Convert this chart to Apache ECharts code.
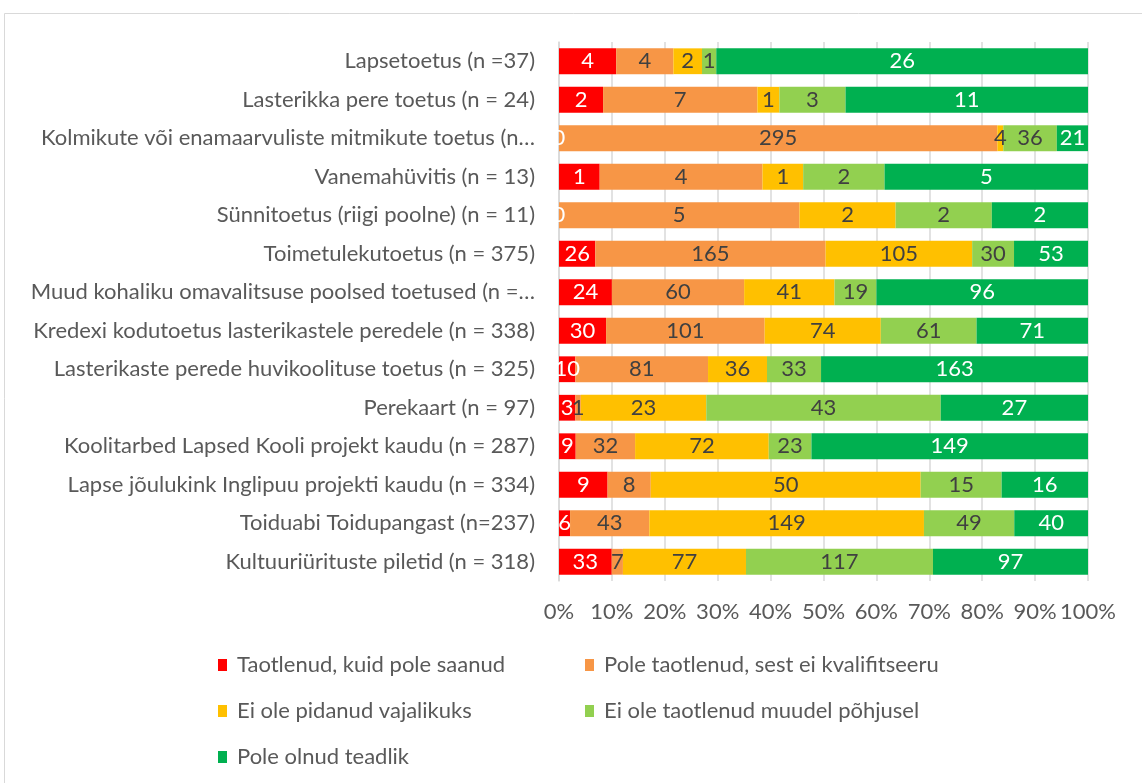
<!DOCTYPE html>
<html>
<head>
<meta charset="utf-8">
<script src="https://cdn.jsdelivr.net/npm/echarts@6/dist/echarts.min.js"></script>
<style>
html,body{margin:0;padding:0;background:#fff;}
#c{width:1142px;height:783px;}
</style>
</head>
<body>
<div id="c"></div>
<script>
const categories = [
  'Lapsetoetus (n =37)',
  'Lasterikka pere toetus (n = 24)',
  'Kolmikute või enamaarvuliste mitmikute toetus (n…',
  'Vanemahüvitis (n = 13)',
  'Sünnitoetus (riigi poolne) (n = 11)',
  'Toimetulekutoetus (n = 375)',
  'Muud kohaliku omavalitsuse poolsed toetused (n =…',
  'Kredexi kodutoetus lasterikastele peredele (n = 338)',
  'Lasterikaste perede huvikoolituse toetus (n = 325)',
  'Perekaart (n = 97)',
  'Koolitarbed Lapsed Kooli projekt kaudu (n = 287)',
  'Lapse jõulukink Inglipuu projekti kaudu (n = 334)',
  'Toiduabi Toidupangast (n=237)',
  'Kultuuriürituste piletid (n = 318)'
];
const seriesNames = [
  'Taotlenud, kuid pole saanud',
  'Pole taotlenud, sest ei kvalifitseeru',
  'Ei ole pidanud vajalikuks',
  'Ei ole taotlenud muudel põhjusel',
  'Pole olnud teadlik'
];
const taotlenud = [4, 2, 0, 1, 0, 26, 24, 30, 10, 3, 9, 9, 6, 33];
const kvalifitseeru = [4, 7, 295, 4, 5, 165, 60, 101, 81, 1, 32, 8, 43, 7];
const vajalikuks = [2, 1, 4, 1, 2, 105, 41, 74, 36, 23, 72, 50, 149, 77];
const muudel = [1, 3, 36, 2, 2, 30, 19, 61, 33, 43, 23, 15, 49, 117];
const teadlik = [26, 11, 21, 5, 2, 53, 96, 71, 163, 27, 149, 16, 40, 97];
const xTicks = [0, 10, 20, 30, 40, 50, 60, 70, 80, 90, 100];

const raw = [taotlenud, kvalifitseeru, vajalikuks, muudel, teadlik];
const colors = ['#FF0000', '#F79646', '#FFC000', '#92D050', '#00B050'];
const labelColors = ['#FFFFFF', '#404040', '#404040', '#404040', '#FFFFFF'];
const totals = categories.map((c, i) => raw.reduce((s, arr) => s + arr[i], 0));

const FONT = 'Lato';
const FS = 22;

const chart = echarts.init(document.getElementById('c'), null, {renderer: 'canvas'});
const series = raw.map((arr, k) => ({
  name: seriesNames[k],
  type: 'bar',
  stack: 'total',
  barCategoryGap: '33%',
  itemStyle: {color: colors[k]},
  label: {
    show: true,
    position: 'inside',
    color: labelColors[k],
    fontFamily: FONT,
    fontSize: FS,
    formatter: p => String(arr[p.dataIndex])
  },
  emphasis: {disabled: true},
  data: arr.map((v, i) => v / totals[i] * 100)
}));

const legendText = {color: '#595959', fontFamily: FONT, fontSize: FS, lineHeight: 22, padding: [0, 0, 0, 5]};

chart.setOption({
  animation: false,
  backgroundColor: '#fff',
  textStyle: {fontFamily: FONT},
  graphic: [{
    type: 'rect',
    shape: {x: 4.5, y: 13.5, width: 1160, height: 800},
    style: {fill: 'none', stroke: '#d9d9d9', lineWidth: 1},
    silent: true, z: -10
  }],
  grid: {left: 559, right: 54, top: 42, bottom: 202, containLabel: false},
  xAxis: {
    type: 'value',
    min: 0, max: 100, interval: 10,
    axisLine: {show: false},
    axisTick: {show: false},
    splitLine: {show: true, lineStyle: {color: '#d9d9d9', width: 1.5}},
    axisLabel: {
      color: '#595959', fontFamily: FONT, fontSize: FS, margin: 20,
      formatter: v => xTicks.includes(v) ? v + '%' : ''
    }
  },
  yAxis: {
    type: 'category',
    inverse: true,
    data: categories,
    axisLine: {show: true, lineStyle: {color: '#d9d9d9', width: 1.5}},
    axisTick: {show: false},
    axisLabel: {color: '#595959', fontFamily: FONT, fontSize: FS, margin: 24}
  },
  legend: [
    {
      orient: 'vertical', left: 213, top: 649,
      data: [seriesNames[0], seriesNames[2], seriesNames[4]],
      icon: 'rect', itemWidth: 9, itemHeight: 12, itemGap: 24,
      textStyle: legendText,
      selectedMode: false
    },
    {
      orient: 'vertical', left: 580, top: 649,
      data: [seriesNames[1], seriesNames[3]],
      icon: 'rect', itemWidth: 9, itemHeight: 12, itemGap: 24,
      textStyle: legendText,
      selectedMode: false
    }
  ],
  series: series
});
</script>
</body>
</html>
